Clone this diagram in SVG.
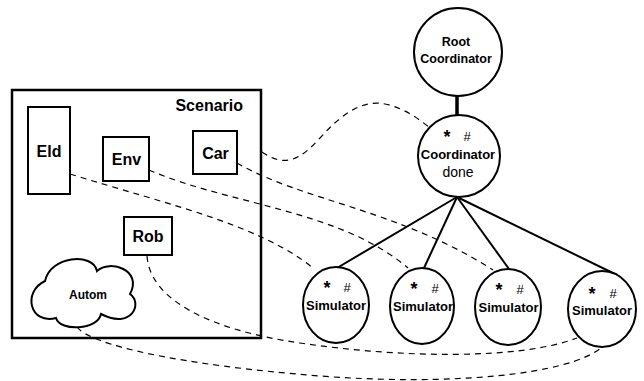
<svg xmlns="http://www.w3.org/2000/svg" width="644" height="381" viewBox="0 0 644 381">
  <style>
    .shape { fill: #fff; stroke: #000; stroke-width: 2; }
    .frame { fill: none; stroke: #000; stroke-width: 2.5; }
    .lbl { font-family: "Liberation Sans", Arial, sans-serif; font-weight: bold; fill: #000; text-anchor: middle; }
    .reg { font-family: "Liberation Sans", Arial, sans-serif; fill: #000; text-anchor: middle; }
    .star { font-family: "Liberation Sans", Arial, sans-serif; font-weight: bold; font-size: 18px; fill: #000; text-anchor: middle; }
    .tree { stroke: #000; stroke-width: 2; fill: none; }
    .link { stroke: #000; stroke-width: 1.2; fill: none; stroke-dasharray: 6 5; }
  </style>

  <!-- scenario container -->
  <g id="scenario">
    <rect class="frame" x="12" y="90" width="249" height="248"/>
    <text class="lbl" x="243" y="111" font-size="16" style="text-anchor:end">Scenario</text>
  </g>

  <!-- dashed couplings and tree links -->
  <g id="connectors">
    <path class="link" d="M262,152 C285,168 300,160 320,138 C345,110 365,100 385,104 C405,108 420,120 430,128"/>
    <path class="link" d="M70,174 C170,205 260,225 313,268"/>
    <path class="link" d="M149,170 C230,205 340,210 408,268"/>
    <path class="link" d="M237,163 C300,200 400,210 493,270"/>
    <path class="link" d="M147,256 C150,300 210,330 300,343 C400,358 520,360 577,338"/>
    <path class="link" d="M77,327 C90,345 180,365 320,376 C450,386 570,375 602,347"/>
    <line x1="457" y1="96" x2="457" y2="116" stroke="#000" stroke-width="3.5"/>
    <line class="tree" x1="457" y1="197" x2="337" y2="268"/>
    <line class="tree" x1="457" y1="197" x2="424" y2="268"/>
    <line class="tree" x1="457" y1="197" x2="509" y2="269"/>
    <line class="tree" x1="457" y1="197" x2="617" y2="275"/>
  </g>

  <g id="eld">
    <rect class="shape" x="28" y="107" width="42" height="87"/>
    <text class="lbl" x="49" y="157" font-size="16">Eld</text>
  </g>
  <g id="env">
    <rect class="shape" x="103" y="137" width="46" height="44"/>
    <text class="lbl" x="126.5" y="165" font-size="16">Env</text>
  </g>
  <g id="car">
    <rect class="shape" x="193" y="131" width="44" height="43"/>
    <text class="lbl" x="215.5" y="159" font-size="16">Car</text>
  </g>
  <g id="rob">
    <rect class="shape" x="124" y="217" width="48" height="38"/>
    <text class="lbl" x="148" y="242" font-size="16">Rob</text>
  </g>
  <g id="autom">
    <path class="shape" d="M45,281 C50,256 93,252 97,271 C110,259 143,270 130,294 C143,303 132,330 101,314 C98,330 60,332 56,318 C30,325 22,292 45,281 Z"/>
    <text class="lbl" x="88" y="299" font-size="12">Autom</text>
  </g>

  <g id="root-coordinator">
    <circle class="shape" cx="458" cy="52" r="44"/>
    <text class="lbl" x="456" y="46" font-size="12.5">Root</text>
    <text class="lbl" x="456" y="63" font-size="12.5">Coordinator</text>
  </g>
  <g id="coordinator">
    <circle class="shape" cx="459" cy="156" r="41"/>
    <text class="star" x="447" y="143">*</text>
    <text class="reg" x="467" y="141" font-size="13">#</text>
    <text class="lbl" x="458" y="159" font-size="13">Coordinator</text>
    <text class="reg" x="458" y="177" font-size="14">done</text>
  </g>

  <g id="simulator-1">
    <ellipse class="shape" cx="336" cy="305" rx="33" ry="38"/>
    <text class="star" x="327" y="294">*</text>
    <text class="reg" x="347" y="292" font-size="13">#</text>
    <text class="lbl" x="336" y="310" font-size="13">Simulator</text>
  </g>
  <g id="simulator-2">
    <ellipse class="shape" cx="422" cy="306" rx="32" ry="38"/>
    <text class="star" x="414" y="295">*</text>
    <text class="reg" x="435" y="293" font-size="13">#</text>
    <text class="lbl" x="423" y="311" font-size="13">Simulator</text>
  </g>
  <g id="simulator-3">
    <ellipse class="shape" cx="508" cy="307" rx="33" ry="38"/>
    <text class="star" x="499" y="296">*</text>
    <text class="reg" x="520" y="294" font-size="13">#</text>
    <text class="lbl" x="508.5" y="312" font-size="13">Simulator</text>
  </g>
  <g id="simulator-4">
    <ellipse class="shape" cx="602" cy="309" rx="34" ry="38"/>
    <text class="star" x="592" y="300">*</text>
    <text class="reg" x="613" y="298" font-size="13">#</text>
    <text class="lbl" x="602" y="315" font-size="13">Simulator</text>
  </g>
</svg>
